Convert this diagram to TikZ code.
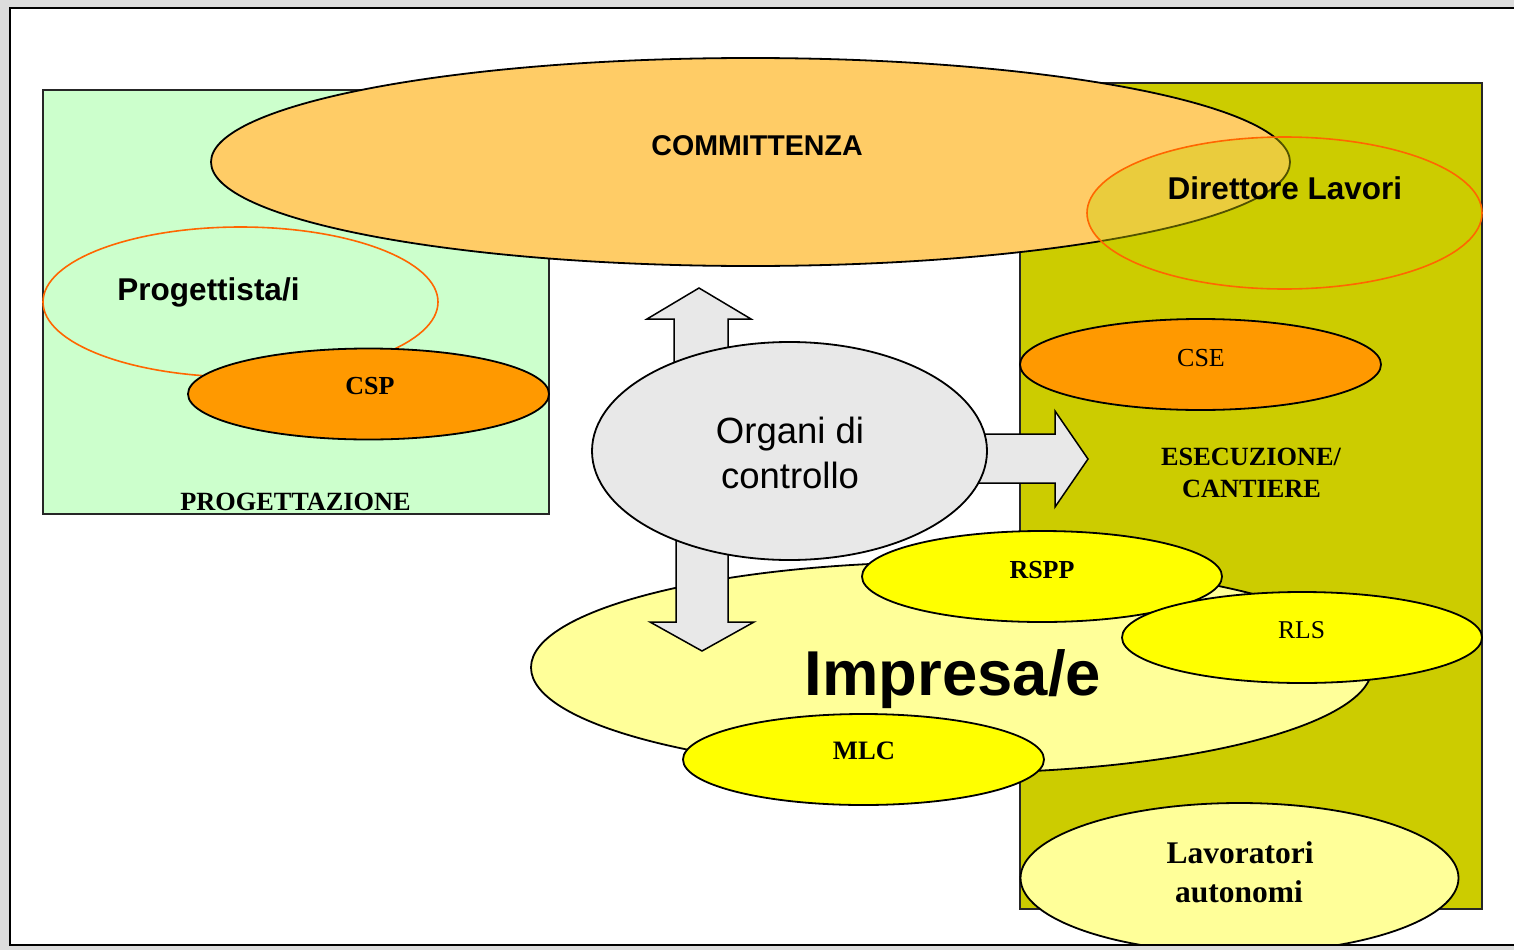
\documentclass[tikz,border=0pt]{standalone}
\usepackage{fontspec}
\setmainfont{Liberation Serif}
\setsansfont{Liberation Sans}
\usetikzlibrary{shapes.geometric}
\definecolor{bggray}{HTML}{DCDCDC}
\definecolor{progreen}{HTML}{CCFFCC}
\definecolor{cantolive}{HTML}{CCCC00}
\definecolor{commorange}{HTML}{FFCC66}
\definecolor{lineorange}{HTML}{FF6600}
\definecolor{csorange}{HTML}{FF9900}
\definecolor{ctrlgray}{HTML}{E8E8E8}
\definecolor{paleyellow}{HTML}{FFFF99}
\definecolor{brightyellow}{HTML}{FFFF00}
\begin{document}
\begin{tikzpicture}[x=1pt,y=-1pt,
  ell/.style={ellipse, draw=black, line width=1.8pt, inner sep=0pt},
  ringell/.style={ellipse, draw=lineorange, line width=1.6pt, inner sep=0pt},
  zone/.style={draw=black!85, line width=1.6pt},
  blockarrow/.style={fill=ctrlgray, draw=black, line width=1.5pt, line join=miter},
  lbl/.style={anchor=base, inner sep=0pt, text=black}]
\useasboundingbox (0,0) rectangle (1514,950);
\fill[bggray] (0,0) rectangle (1514,950);
\fill[white] (10,8) rectangle (1530,945);
\begin{scope}
\clip (10,8) rectangle (1530,945);
% zones
\draw[zone, fill=progreen] (43,90) rectangle (549,514);
\draw[zone, fill=cantolive] (1020,83) rectangle (1482,909);
% progettazione
\node[ringell, minimum width=395pt, minimum height=150pt] (prog) at (240.5,302) {};
\node[ell, fill=csorange, minimum width=361pt, minimum height=91pt] (csp) at (368.5,394) {};
% committenza
\node[ell, fill=commorange, minimum width=1079pt, minimum height=208pt] (comm) at (750.5,162) {};
\node[ringell, fill=cantolive, fill opacity=0.4, minimum width=395pt, minimum height=152pt] (dl) at (1284.5,213) {};
\node[ell, fill=csorange, minimum width=361pt, minimum height=91pt] (cse) at (1200.5,364.5) {};
% impresa
\node[ell, fill=paleyellow, minimum width=841pt, minimum height=211pt] (imp) at (951.5,667.5) {};
% block arrows
\draw[blockarrow] (674,420) -- (674,319) -- (647,319) -- (699,288) -- (751,319) -- (728,319) -- (728,420) -- cycle;
\draw[blockarrow] (950,434) -- (1055,434) -- (1055,411) -- (1088,459) -- (1055,507) -- (1055,483) -- (950,483) -- cycle;
\draw[blockarrow] (676,490) -- (676,622) -- (650,622) -- (702,651) -- (754,622) -- (728,622) -- (728,490) -- cycle;
% organi di controllo
\node[ell, fill=ctrlgray, minimum width=395pt, minimum height=218pt] (org) at (789.5,451) {};
% small roles
\node[ell, fill=brightyellow, minimum width=360pt, minimum height=91pt] (rspp) at (1042,576.5) {};
\node[ell, fill=brightyellow, minimum width=360pt, minimum height=91pt] (rls) at (1302,637.5) {};
\node[ell, fill=brightyellow, minimum width=361pt, minimum height=91pt] (mlc) at (863.5,759.5) {};
\node[ell, fill=paleyellow, minimum width=438pt, minimum height=150pt] (lav) at (1239.5,878) {};
% labels
\node[lbl, font=\fontsize{28.6}{34}\selectfont\sffamily\bfseries] (tcomm) at (757,155) {COMMITTENZA};
\node[lbl, font=\fontsize{31.5}{38}\selectfont\sffamily\bfseries] (tdl) at (1285,199) {Direttore Lavori};
\node[lbl, font=\fontsize{31.5}{38}\selectfont\sffamily\bfseries] (tprog) at (208.5,300) {Progettista/i};
\node[lbl, font=\fontsize{26}{31}\selectfont\bfseries] (tcsp) at (370,394) {CSP};
\node[lbl, font=\fontsize{26.3}{31}\selectfont\bfseries] (tprogz) at (295.5,510) {PROGETTAZIONE};
\node[lbl, font=\fontsize{26}{31}\selectfont] (tcse) at (1201,366) {CSE};
\node[lbl, font=\fontsize{36.5}{45}\selectfont\sffamily] (torg1) at (790,443) {Organi di};
\node[lbl, font=\fontsize{36.5}{45}\selectfont\sffamily] (torg2) at (790,488) {controllo};
\node[lbl, font=\fontsize{26.3}{31}\selectfont\bfseries] (tese1) at (1251,465) {ESECUZIONE/};
\node[lbl, font=\fontsize{26.3}{31}\selectfont\bfseries] (tese2) at (1251.5,497) {CANTIERE};
\node[lbl, font=\fontsize{26}{31}\selectfont\bfseries] (trspp) at (1042,578) {RSPP};
\node[lbl, font=\fontsize{25.6}{31}\selectfont] (trls) at (1301.5,638) {RLS};
\node[lbl, font=\fontsize{63.4}{76}\selectfont\sffamily\bfseries] (timp) at (953,695) {Impresa/e};
\node[lbl, font=\fontsize{26.6}{32}\selectfont\bfseries] (tmlc) at (864,759) {MLC};
\node[lbl, font=\fontsize{31.5}{38}\selectfont\bfseries] (tlav1) at (1240,863) {Lavoratori};
\node[lbl, font=\fontsize{31.5}{38}\selectfont\bfseries] (tlav2) at (1239,902) {autonomi};
\end{scope}
\draw[line width=2.2pt] (10,8) rectangle (1530,945);
\end{tikzpicture}
\end{document}
